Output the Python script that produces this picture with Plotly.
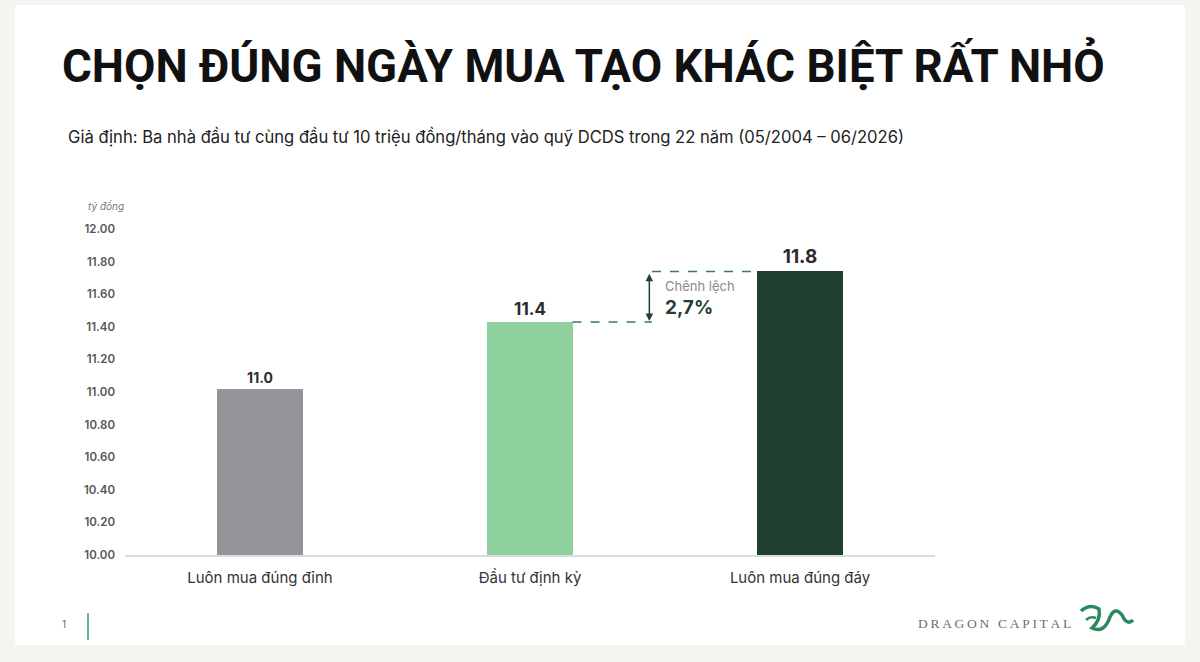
import plotly.graph_objects as go

categories = ["Luôn mua đúng đỉnh", "Đầu tư định kỳ", "Luôn mua đúng đáy"]
values = [11.02, 11.43, 11.74]
value_labels = ["11.0", "11.4", "11.8"]
value_label_sizes = [14, 17, 19]
bar_colors = ["#939598", "#8fd19e", "#1f3f2f"]
tick_vals = [10.0, 10.2, 10.4, 10.6, 10.8, 11.0, 11.2, 11.4, 11.6, 11.8, 12.0]
tick_text = ["%.2f" % v for v in tick_vals]
diff_label = "2,7%"

W, H = 1200, 662
BAR_W = 0.315

fig = go.Figure()
fig.add_trace(go.Bar(
    x=list(range(len(categories))), y=values, width=BAR_W,
    marker=dict(color=bar_colors, line=dict(width=0)),
    text=value_labels, textposition="outside", cliponaxis=False,
    textfont=dict(family="Inter", size=value_label_sizes, color="#2b2b2b", weight="bold"),
    hoverinfo="skip",
))

def px_x(p):
    return p / W

def px_y(p):
    return 1 - p / H

def px_path(points_cmd):
    out = []
    for tok in points_cmd:
        if isinstance(tok, str):
            out.append(tok)
        else:
            out.append("%.5f,%.5f" % (px_x(tok[0]), px_y(tok[1])))
    return " ".join(out)

logo_path = px_path(["M", (1081, 611), "Q", (1090, 603), (1099, 609),
                     "Q", (1101, 620), (1092, 628),
                     "Q", (1104, 634), (1110, 617),
                     "Q", (1115, 606), (1122, 615),
                     "Q", (1127, 626), (1133, 620)])
logo_path2 = px_path(["M", (1086, 620), "Q", (1090, 616), (1096, 618)])

shapes = [
    dict(type="rect", xref="paper", yref="paper", x0=px_x(15), x1=px_x(1185), y0=px_y(645), y1=px_y(5),
         fillcolor="white", line=dict(width=0), layer="below"),
    # footer green bar
    dict(type="line", xref="paper", yref="paper", x0=px_x(88), x1=px_x(88), y0=px_y(640), y1=px_y(613),
         line=dict(color="#5cb98a", width=2)),
    dict(type="path", xref="paper", yref="paper", path=logo_path, line=dict(color="#2a8a5f", width=3.5)),
    dict(type="path", xref="paper", yref="paper", path=logo_path2, line=dict(color="#2a8a5f", width=2.5)),
]
# dashed connectors
mid_x = 1.452
shapes.append(dict(type="line", xref="x", yref="y", x0=1 + BAR_W / 2, x1=mid_x, y0=values[1], y1=values[1],
                   line=dict(color="#3b7a5a", width=1.5, dash="dash")))
shapes.append(dict(type="line", xref="x", yref="y", x0=mid_x, x1=2 - BAR_W / 2, y0=values[2], y1=values[2],
                   line=dict(color="#3b7a5a", width=1.5, dash="dash")))

annotations = [
    dict(xref="paper", yref="paper", x=px_x(60), y=px_y(65), text="<b>CHỌN ĐÚNG NGÀY MUA TẠO KHÁC BIỆT RẤT NHỎ</b>",
         showarrow=False, xanchor="left", yanchor="middle",
         font=dict(family="Roboto", size=45.6, color="#111111")),
    dict(xref="paper", yref="paper", x=px_x(66), y=px_y(136),
         text="Giả định: Ba nhà đầu tư cùng đầu tư 10 triệu đồng/tháng vào quỹ DCDS trong 22 năm (05/2004 – 06/2026)",
         showarrow=False, xanchor="left", yanchor="middle",
         font=dict(family="Inter", size=16.6, color="#222222")),
    dict(xref="paper", yref="paper", x=px_x(86), y=px_y(206), text="<i>tỷ đồng</i>",
         showarrow=False, xanchor="left", yanchor="middle",
         font=dict(family="Inter", size=10, color="#777777")),
    # arrow
    dict(xref="x", yref="y", axref="x", ayref="y", x=mid_x - 0.01, y=values[1] + 0.005,
         ax=mid_x - 0.01, ay=values[2] - 0.005, text="", showarrow=True,
         arrowhead=2, startarrowhead=2, arrowside="end+start", arrowwidth=1.5, arrowsize=1,
         arrowcolor="#1f3f2f"),
    dict(xref="x", yref="y", x=mid_x + 0.04, y=values[2] - 0.09, text="Chênh lệch",
         showarrow=False, xanchor="left", yanchor="middle",
         font=dict(family="Inter", size=13, color="#8a8a8a")),
    dict(xref="x", yref="y", x=mid_x + 0.04, y=values[2] - 0.22, text="<b>" + diff_label + "</b>",
         showarrow=False, xanchor="left", yanchor="middle",
         font=dict(family="Inter", size=19, color="#1f3f2f")),
    # footer
    dict(xref="paper", yref="paper", x=px_x(64), y=px_y(624), text="1",
         showarrow=False, xanchor="center", yanchor="middle",
         font=dict(family="Inter", size=10, color="#666666")),
    dict(xref="paper", yref="paper", x=px_x(1073), y=px_y(623),
         text="\u2009".join("DRAGON CAPITAL"),
         showarrow=False, xanchor="right", yanchor="middle",
         font=dict(family="Liberation Serif", size=13.5, color="#6f6f6f")),
]

fig.update_layout(
    width=W, height=H, autosize=False,
    margin=dict(l=0, r=0, t=0, b=0, pad=0),
    paper_bgcolor="#f6f4ef", plot_bgcolor="rgba(0,0,0,0)",
    showlegend=False, bargap=0,
    shapes=shapes, annotations=annotations,
    xaxis=dict(domain=[px_x(125), px_x(935)], range=[-0.5, 2.5], automargin=False,
               tickmode="array", tickvals=list(range(len(categories))), ticktext=categories,
               showgrid=False, zeroline=False, showline=True, linecolor="#dcdcdc", linewidth=1.5,
               ticks="", ticklen=0, ticklabelstandoff=8,
               tickfont=dict(family="Inter", size=15, color="#333333")),
    yaxis=dict(domain=[px_y(555), px_y(229)], range=[10, 12], automargin=False,
               tickmode="array", tickvals=tick_vals, ticktext=tick_text,
               showgrid=False, zeroline=False, showline=False, ticks="",
               ticklabelstandoff=9,
               tickfont=dict(family="Inter", size=11.5, color="#555555", weight=600)),
)

fig.write_html("out.html", config={"displayModeBar": False},
               post_script="document.body.style.margin='0';document.body.style.overflow='hidden';")
